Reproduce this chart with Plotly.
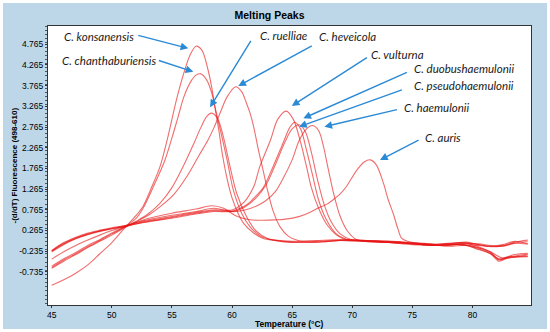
import plotly.graph_objects as go

# ---------------- data ----------------
konsanensis_T = [45, 46, 47, 48, 49, 50, 51, 52, 52.6, 53.3, 54.0, 54.6, 55.4, 56.0, 56.5, 57.0, 57.5, 58.0, 58.3, 58.6, 58.9, 59.2, 59.6, 60.0, 60.5, 61.0, 61.8, 62.6, 63.5, 65, 67, 69, 71, 73, 75, 77, 79, 80.5, 81.5, 82.5, 83.5, 84.6]
konsanensis_y = [-1.06, -0.93, -0.77, -0.57, -0.3, -0.03, 0.3, 0.62, 0.85, 1.3, 1.8, 2.45, 3.45, 4.08, 4.5, 4.72, 4.62, 4.15, 3.74, 3.2, 2.69, 2.1, 1.5, 1.05, 0.68, 0.42, 0.2, 0.07, 0.03, 0.0, 0.02, 0.04, 0.02, 0.0, -0.04, -0.07, -0.03, -0.08, -0.12, -0.1, -0.02, 0.03]

chanthaburiensis_T = [45, 46, 47, 48, 49, 50, 51, 52, 52.6, 53.5, 54.4, 55.0, 55.5, 56.0, 56.6, 57.0, 57.4, 57.9, 58.3, 58.7, 59.1, 59.6, 60.1, 60.8, 61.5, 62.4, 63.5, 65, 67, 69, 71, 73, 75, 77, 79, 80.5, 81.5, 82.2, 83, 84.6]
chanthaburiensis_y = [-0.63, -0.45, -0.3, -0.13, 0.02, 0.18, 0.34, 0.55, 0.8, 1.35, 1.95, 2.5, 3.0, 3.5, 3.88, 4.02, 4.05, 3.9, 3.6, 3.1, 2.6, 1.95, 1.25, 0.68, 0.35, 0.12, 0.03, -0.02, 0.0, 0.02, 0.0, -0.03, -0.08, -0.1, -0.08, -0.15, -0.28, -0.45, -0.38, -0.31]

ruelliae_T = [45, 46, 47, 48, 49, 50, 51, 52, 53, 54, 55, 56, 56.8, 57.4, 57.9, 58.3, 58.8, 59.3, 59.8, 60.4, 61.2, 62, 63, 64, 66, 68, 70, 72, 74, 76, 78, 79.5, 80.5, 81.5, 82.5, 83.5, 84.6]
ruelliae_y = [-0.65, -0.48, -0.32, -0.15, 0.0, 0.15, 0.32, 0.48, 0.66, 0.92, 1.3, 1.85, 2.35, 2.75, 3.02, 3.1, 2.97, 2.5, 1.85, 1.15, 0.6, 0.25, 0.06, 0.0, -0.03, 0.0, 0.04, 0.0, -0.02, -0.07, -0.06, -0.02, -0.08, -0.13, -0.11, -0.04, -0.01]

heveicola_T = [45, 46, 47, 48, 49, 50, 51.2, 52.2, 53.2, 54.2, 55.2, 56.2, 57.2, 58.0, 58.5, 59.0, 59.6, 60.3, 60.8, 61.2, 61.5, 61.8, 62.2, 62.6, 62.9, 63.4, 64.0, 64.7, 65.5, 67, 69, 71, 73, 75, 77, 79, 80.5, 81.5, 82.2, 83, 84.6]
heveicola_y = [-0.43, -0.25, -0.1, 0.03, 0.15, 0.26, 0.37, 0.5, 0.66, 0.88, 1.15, 1.55, 2.05, 2.45, 2.75, 3.1, 3.5, 3.74, 3.62, 3.34, 3.1, 2.77, 2.2, 1.7, 1.3, 0.75, 0.35, 0.12, 0.02, -0.02, 0.02, 0.0, -0.03, -0.06, -0.1, -0.08, -0.18, -0.3, -0.42, -0.4, -0.33]

vulturna_T = [45, 46, 47, 48, 49, 50, 51.2, 53, 55, 57, 58.5, 60, 61, 61.8, 62.3, 63.2, 63.8, 64.5, 65.1, 65.7, 66.2, 66.6, 67.2, 67.9, 68.7, 69.6, 71, 73, 75, 77, 79, 80.5, 81.5, 82.2, 83, 84.6]
vulturna_y = [-0.23, -0.05, 0.08, 0.18, 0.25, 0.31, 0.38, 0.5, 0.6, 0.7, 0.76, 0.76, 0.95, 1.32, 1.8, 2.45, 2.95, 3.15, 2.95, 2.4, 1.8, 1.3, 0.8, 0.4, 0.15, 0.03, 0.02, -0.02, -0.06, -0.09, -0.07, -0.16, -0.26, -0.44, -0.38, -0.36]

duobushaemulonii_T = [45, 46, 47, 48, 49, 50, 51.2, 53, 55, 57, 58.5, 60, 61, 61.5, 62, 62.6, 63.4, 64.2, 64.8, 65.2, 65.7, 66.2, 66.7, 67.2, 67.8, 68.6, 69.5, 70.5, 72, 74, 76, 78, 79.5, 80.5, 81.5, 82.5, 83.5, 84.6]
duobushaemulonii_y = [-0.25, -0.08, 0.06, 0.16, 0.24, 0.3, 0.37, 0.48, 0.58, 0.68, 0.74, 0.73, 0.85, 0.95, 1.1, 1.3, 1.8, 2.35, 2.75, 2.88, 2.72, 2.2, 1.6, 1.0, 0.55, 0.2, 0.05, 0.02, 0.0, -0.03, -0.08, -0.1, -0.05, -0.13, -0.25, -0.4, -0.32, -0.29]

pseudohaemulonii_T = [45, 46, 47, 48, 49, 50, 51.2, 53, 55, 57, 58.5, 60, 61, 62, 62.8, 63.6, 64.4, 65.0, 65.6, 66.1, 66.6, 67.1, 67.6, 68.2, 69, 70, 72, 74, 76, 78, 79.5, 80.5, 81.5, 82.2, 83, 84.6]
pseudohaemulonii_y = [-0.6, -0.42, -0.27, -0.1, 0.04, 0.2, 0.36, 0.47, 0.56, 0.66, 0.72, 0.72, 0.82, 1.05, 1.35, 1.85, 2.4, 2.72, 2.82, 2.65, 2.15, 1.5, 0.95, 0.5, 0.18, 0.03, 0.02, -0.01, -0.05, -0.12, -0.1, -0.2, -0.3, -0.48, -0.4, -0.37]

haemulonii_T = [45, 46, 47, 48, 49, 50, 51.2, 53, 55, 57, 58.5, 60, 61, 62, 62.8, 63.6, 64.3, 65.0, 65.6, 66.2, 66.7, 67.2, 67.6, 68.0, 68.5, 69.0, 69.6, 70.3, 71, 73, 75, 77, 79, 80.5, 81.5, 82.5, 83.5, 84.6]
haemulonii_y = [-0.22, -0.03, 0.1, 0.2, 0.27, 0.33, 0.39, 0.52, 0.63, 0.72, 0.8, 0.72, 0.75, 0.85, 0.98, 1.2, 1.55, 1.97, 2.45, 2.72, 2.8, 2.68, 2.3, 1.75, 1.1, 0.6, 0.25, 0.05, 0.0, -0.02, -0.06, -0.1, -0.06, -0.1, -0.12, -0.08, 0.0, -0.06]

auris_T = [45, 46, 47, 48, 49, 50, 51.2, 53, 55, 57, 58.3, 59.3, 60.3, 61.5, 62.5, 63.6, 64.3, 65.7, 66.4, 67.0, 67.9, 68.6, 69.0, 69.5, 70.4, 71.0, 71.5, 72.0, 72.6, 73.0, 73.4, 73.8, 74.1, 74.6, 75.5, 77, 79, 80.5, 81.5, 82.5, 83.5, 84.6]
auris_y = [-0.24, -0.06, 0.07, 0.17, 0.25, 0.31, 0.37, 0.55, 0.68, 0.78, 0.86, 0.8, 0.62, 0.52, 0.51, 0.52, 0.53, 0.61, 0.69, 0.78, 0.9, 1.05, 1.15, 1.32, 1.73, 1.92, 1.97, 1.85, 1.4, 1.0, 0.68, 0.3, 0.08, 0.0, -0.05, -0.08, -0.04, -0.06, -0.1, -0.12, -0.05, -0.07]

species_labels = ["C. konsanensis", "C. chanthaburiensis", "C. ruelliae", "C. heveicola", "C. vulturna",
                  "C. duobushaemulonii", "C. pseudohaemulonii", "C. haemulonii", "C. auris"]
label_x = [45.86, 45.69, 62.16, 67.07, 71.40, 74.98, 74.98, 74.14, 75.89]
label_y = [4.966, 4.385, 4.99, 4.966, 4.53, 4.19, 3.78, 3.225, 2.523]
arrow_tail_x = [52.07, 53.79, 61.64, 66.76, 71.34, 74.67, 74.25, 73.84, 75.64]
arrow_tail_y = [4.99, 4.385, 4.886, 4.748, 4.465, 4.102, 3.677, 3.193, 2.468]
arrow_head_x = [56.36, 56.78, 58.17, 60.52, 64.97, 65.93, 65.57, 67.68, 72.31]
arrow_head_y = [4.668, 4.102, 3.241, 3.757, 3.273, 2.975, 2.772, 2.772, 1.967]

y_ticks = [-0.735, -0.235, 0.265, 0.765, 1.265, 1.765, 2.265, 2.765, 3.265, 3.765, 4.265, 4.765]
x_ticks = [45, 50, 55, 60, 65, 70, 75, 80]

series = [
    (konsanensis_T, konsanensis_y),
    (chanthaburiensis_T, chanthaburiensis_y),
    (ruelliae_T, ruelliae_y),
    (heveicola_T, heveicola_y),
    (vulturna_T, vulturna_y),
    (duobushaemulonii_T, duobushaemulonii_y),
    (pseudohaemulonii_T, pseudohaemulonii_y),
    (haemulonii_T, haemulonii_y),
    (auris_T, auris_y),
]

BG = "#bdd7e8"
BLUE = "#2b8ad6"

fig = go.Figure()
for (tx, ty), name in zip(series, species_labels):
    fig.add_trace(go.Scatter(x=tx, y=ty, mode="lines", name=name,
                             line=dict(color="rgba(230,20,20,0.62)", width=1.1, shape="spline", smoothing=0.9),
                             hoverinfo="skip", showlegend=False))

annotations = []
for i, lab in enumerate(species_labels):
    annotations.append(dict(x=label_x[i], y=label_y[i], xref="x", yref="y", text=lab, showarrow=False,
                            xanchor="left", yanchor="middle",
                            font=dict(family="Lato", size=11.5, color="#1a1a1a", style="italic")))
    annotations.append(dict(x=arrow_head_x[i], y=arrow_head_y[i], ax=arrow_tail_x[i], ay=arrow_tail_y[i],
                            xref="x", yref="y", axref="x", ayref="y", text="", showarrow=True,
                            arrowhead=2, arrowsize=1.1, arrowwidth=1.4, arrowcolor=BLUE, standoff=0, startstandoff=0))

# axis titles
annotations.append(dict(x=0.5, y=-19 / 279, xref="paper", yref="paper", text="Temperature (°C)", showarrow=False,
                        xanchor="center", yanchor="middle",
                        font=dict(family="Liberation Sans", size=8.5, color="#000", weight="bold")))
annotations.append(dict(x=-34 / 483, y=0.5, xref="paper", yref="paper", text="-(d/dT) Fluorescence (498-610)",
                        showarrow=False, textangle=-90, xanchor="center", yanchor="middle",
                        font=dict(family="Liberation Sans", size=8, color="#000", weight="bold")))

fig.update_layout(
    width=550, height=332,
    margin=dict(l=48, r=19, t=26, b=27),
    paper_bgcolor=BG, plot_bgcolor="white",
    title=dict(text="<b>Melting Peaks</b>", x=0.49, xref="container", xanchor="center",
               y=1 - 15 / 332, yref="container", yanchor="middle",
               font=dict(family="Liberation Sans", size=10.5, color="#000")),
    annotations=annotations,
    shapes=[dict(type="rect", xref="paper", yref="paper",
                 x0=-48 / 483, x1=(550 - 48) / 483, y0=-27 / 279, y1=(332 - 27) / 279,
                 line=dict(color="white", width=6), fillcolor="rgba(0,0,0,0)", layer="above")],
)
fig.update_xaxes(range=[44.69, 84.87], tickvals=x_ticks, ticktext=[str(v) for v in x_ticks],
                 showgrid=False, zeroline=False, showline=True, linecolor="#333", linewidth=1, mirror=True,
                 ticks="outside", ticklen=2, tickcolor="#333",
                 tickfont=dict(family="Liberation Sans", size=8.5, color="#000"))
fig.update_yaxes(range=[-1.54, 5.208], tickvals=y_ticks, ticktext=[f"{v:.3f}" for v in y_ticks],
                 showgrid=False, zeroline=False, showline=True, linecolor="#333", linewidth=1, mirror=True,
                 ticks="outside", ticklen=2, tickcolor="#333",
                 minor=dict(ticks="outside", ticklen=2, dtick=0.1, tickcolor="#555"),
                 tickfont=dict(family="Liberation Sans", size=8.5, color="#000"))

fig.write_html("out.html", config={"displayModeBar": False},
               post_script="document.body.style.margin='0';document.body.style.padding='0';")
